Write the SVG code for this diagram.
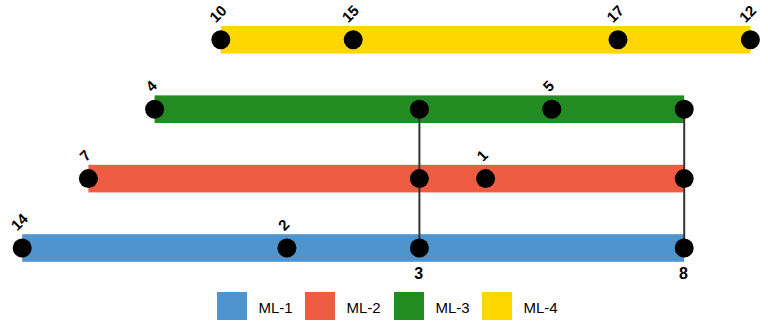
<svg xmlns="http://www.w3.org/2000/svg" width="768" height="327" viewBox="0 0 768 327">
<style>
  .st { fill: #000; }
  .lbl { font-family: "Liberation Sans", Arial, sans-serif; font-weight: bold; font-size: 15px; fill: #000; }
  .lblb { font-family: "Liberation Sans", Arial, sans-serif; font-weight: bold; font-size: 16px; fill: #000; text-anchor: middle; }
  .leg { font-family: "Liberation Sans", Arial, sans-serif; font-size: 15px; fill: #000; }
  .conn { stroke: #333; stroke-width: 2; fill: none; }
</style>
<rect width="768" height="327" fill="#fff"/>
<g id="lines">
  <rect id="ML-4" x="220.8" y="26" width="529.6" height="27.6" fill="#FFD700"/>
  <rect id="ML-3" x="154.6" y="95.4" width="529.6" height="27.6" fill="#228B22"/>
  <rect id="ML-2" x="88.4" y="164.8" width="595.8" height="27.6" fill="#EE5C42"/>
  <rect id="ML-1" x="22.2" y="234.2" width="662" height="27.6" fill="#4F94CD"/>
</g>
<g id="connectors">
  <line class="conn" x1="419.4" y1="109.2" x2="419.4" y2="248"/>
  <line class="conn" x1="684.2" y1="109.2" x2="684.2" y2="248"/>
</g>
<g id="station-10"><circle class="st" cx="220.8" cy="39.8" r="9.5"/><text class="lbl" transform="translate(215.8,23.4) rotate(-45)">10</text></g>
<g id="station-15"><circle class="st" cx="353.2" cy="39.8" r="9.5"/><text class="lbl" transform="translate(348.2,23.4) rotate(-45)">15</text></g>
<g id="station-17"><circle class="st" cx="618" cy="39.8" r="9.5"/><text class="lbl" transform="translate(613,23.4) rotate(-45)">17</text></g>
<g id="station-12"><circle class="st" cx="750.4" cy="39.8" r="9.5"/><text class="lbl" transform="translate(745.4,23.4) rotate(-45)">12</text></g>
<g id="station-4"><circle class="st" cx="154.6" cy="109.2" r="9.5"/><text class="lbl" transform="translate(152.1,92.8) rotate(-45)">4</text></g>
<g id="station-5"><circle class="st" cx="551.8" cy="109.2" r="9.5"/><text class="lbl" transform="translate(549.3,92.8) rotate(-45)">5</text></g>
<g id="station-7"><circle class="st" cx="88.4" cy="178.6" r="9.5"/><text class="lbl" transform="translate(85.9,162.2) rotate(-45)">7</text></g>
<g id="station-1"><circle class="st" cx="485.6" cy="178.6" r="9.5"/><text class="lbl" transform="translate(483.1,162.2) rotate(-45)">1</text></g>
<g id="station-14"><circle class="st" cx="22.2" cy="248" r="9.5"/><text class="lbl" transform="translate(17.2,231.6) rotate(-45)">14</text></g>
<g id="station-2"><circle class="st" cx="286.9" cy="248" r="9.5"/><text class="lbl" transform="translate(284.4,231.6) rotate(-45)">2</text></g>
<g id="station-3">
  <circle class="st" cx="419.4" cy="109.2" r="9.5"/>
  <circle class="st" cx="419.4" cy="178.6" r="9.5"/>
  <circle class="st" cx="419.4" cy="248" r="9.5"/>
  <text class="lblb" x="418.8" y="279">3</text>
</g>
<g id="station-8">
  <circle class="st" cx="684.2" cy="109.2" r="9.5"/>
  <circle class="st" cx="684.2" cy="178.6" r="9.5"/>
  <circle class="st" cx="684.2" cy="248" r="9.5"/>
  <text class="lblb" x="683.4" y="279">8</text>
</g>
<g id="legend">
  <rect x="217" y="292" width="30" height="28" fill="#4F94CD"/>
  <text class="leg" x="258.5" y="312.5">ML-1</text>
  <rect x="305" y="292" width="30" height="28" fill="#EE5C42"/>
  <text class="leg" x="346.5" y="312.5">ML-2</text>
  <rect x="394" y="292" width="30" height="28" fill="#228B22"/>
  <text class="leg" x="435.5" y="312.5">ML-3</text>
  <rect x="482" y="292" width="30" height="28" fill="#FFD700"/>
  <text class="leg" x="523.5" y="312.5">ML-4</text>
</g>
</svg>
